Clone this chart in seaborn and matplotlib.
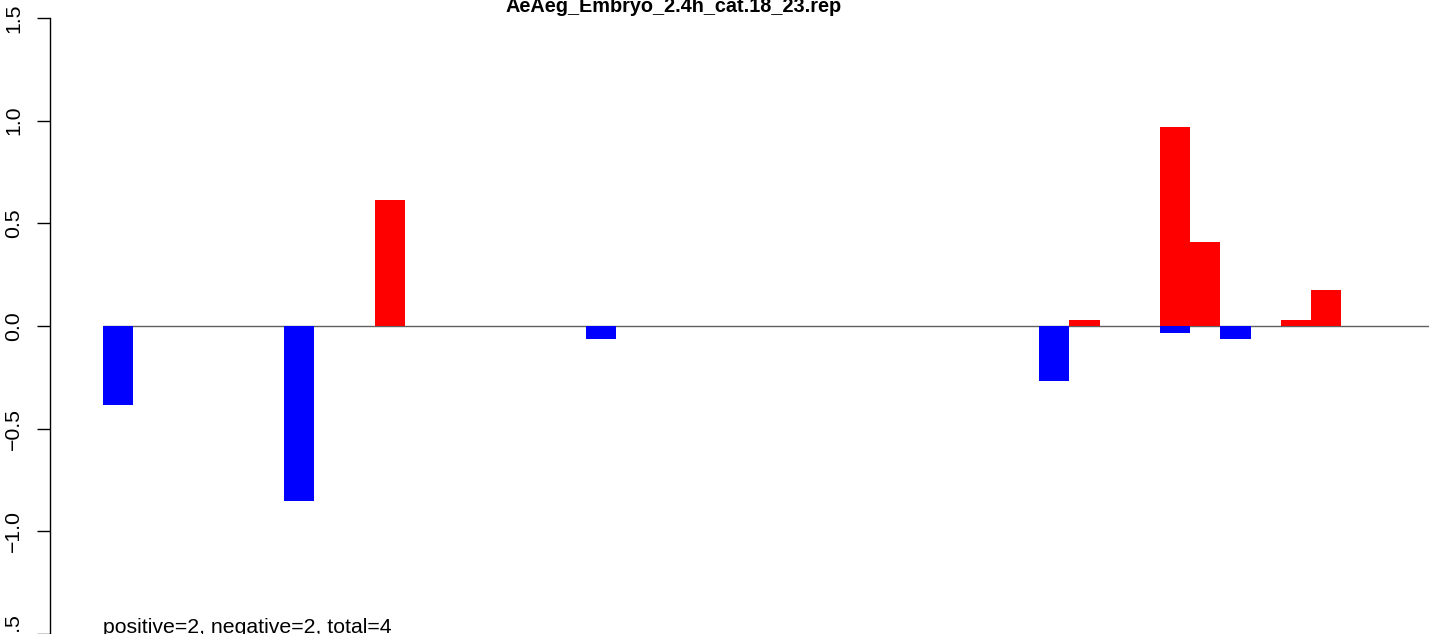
import numpy as np
import pandas as pd
import matplotlib
matplotlib.use("Agg")
import matplotlib.pyplot as plt
import seaborn as sns

# values, one slot per bin (44 bins)
n_bins = 44
slots = list(range(1, n_bins + 1))
neg_values = [0.0] * n_bins
pos_values = [0.0] * n_bins
neg_bins = [1, 7, 17, 32, 36, 38]
neg_heights = [-0.383, -0.851, -0.063, -0.268, -0.033, -0.062]
pos_bins = [10, 33, 36, 37, 40, 41]
pos_heights = [0.614, 0.030, 0.969, 0.409, 0.030, 0.175]
for b, v in zip(neg_bins, neg_heights):
    neg_values[b - 1] = v
for b, v in zip(pos_bins, pos_heights):
    pos_values[b - 1] = v

y_ticks = [-1.5, -1.0, -0.5, 0.0, 0.5, 1.0, 1.5]
title = "AeAeg_Embryo_2.4h_cat.18_23.rep"
note = "positive=2, negative=2, total=4"

sns.set_theme(style="white")
plt.rcParams["font.family"] = ["Liberation Sans", "DejaVu Sans"]
plt.rcParams["axes.unicode_minus"] = True
plt.rcParams["text.color"] = "black"
plt.rcParams["ytick.color"] = "black"
plt.rcParams["ytick.labelcolor"] = "black"

W, H = 1429, 634
fig = plt.figure(figsize=(W / 100, H / 100), dpi=100)
ax = fig.add_axes([50 / W, 0, (W - 50) / W, 616 / H])

df = pd.DataFrame({"slot": slots, "neg": neg_values, "pos": pos_values})
sns.barplot(data=df, x="slot", y="neg", color="#0000ff", saturation=1,
            width=1.0, linewidth=0, ax=ax)
sns.barplot(data=df, x="slot", y="pos", color="#ff0000", saturation=1,
            width=1.0, linewidth=0, ax=ax)

# zero line over the bins
ax.hlines(0, -0.5, n_bins - 0.5, color="#606060", linewidth=1.0, zorder=0)

slot_px = 30.2
left = -0.5 - 53 / slot_px
ax.set_xlim(left, left + (W - 50) / slot_px)
ax.set_ylim(-1.5, 1.5)

for s in ["top", "right", "bottom"]:
    ax.spines[s].set_visible(False)
ax.spines["left"].set_color("black")
ax.spines["left"].set_linewidth(1.0)
ax.set_xticks([])
ax.set_xlabel("")
ax.set_ylabel("")
ax.set_yticks(y_ticks)
ax.set_yticklabels([f"{t:.1f}".replace("-", "\u2212") for t in y_ticks],
                   rotation=90, va="center", fontsize=15.3, color="black")
ax.tick_params(axis="y", direction="out", length=9.4, width=1.0,
               color="black", pad=10, left=True)

fig.text(674 / W, 1 - 11.5 / H, title, ha="center", va="baseline",
         fontsize=14.3, fontweight="bold", color="black")
fig.text(103 / W, 1 - 633 / H, note, ha="left", va="baseline",
         fontsize=15.3, color="black")

fig.savefig("out.png", dpi=100)
